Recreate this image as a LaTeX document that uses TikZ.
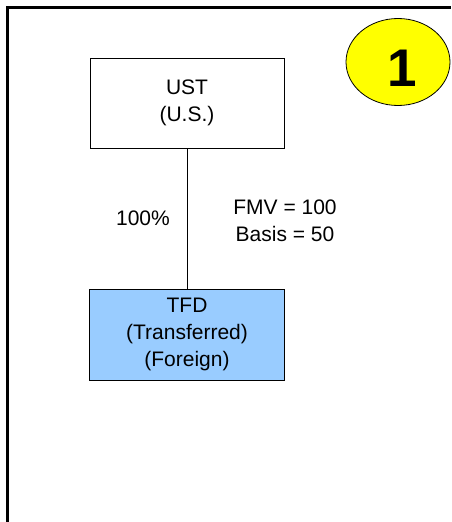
\documentclass[tikz,border=0pt]{standalone}
\usepackage{fontspec}
\setmainfont{Liberation Sans}
\usetikzlibrary{shapes,positioning}
\definecolor{tfd-blue}{HTML}{99CCFF}
\definecolor{step-yellow}{HTML}{FFFF00}
\tikzset{every picture/.style={/utils/exec={\fontsize{21}{27}\selectfont}}}

\begin{document}
\begin{tikzpicture}[x=1pt, y=-1pt]

    \fill[white] (0,0) rectangle (451,522);
    \useasboundingbox (0,0) rectangle (451,522);
    \draw[line width=3pt] (7.5,522) -- (7.5,7.5) -- (451,7.5);

    \node[draw=black, thick, minimum width=194pt, minimum height=90pt, align=center] (ust) at (187, 103) {UST\\(U.S.)};
    \node[fill=tfd-blue, draw=black, thick, minimum width=195pt, minimum height=91pt, align=center] (tfd) at (187, 334.5) {TFD\\(Transferred)\\(Foreign)};

    \draw[thick] (ust.south) -- (tfd.north);

    \node (pct) at (143, 218) {100\%};
    \node[align=center] (val) at (285, 221) {FMV = 100\\Basis = 50};

    \node[ellipse, fill=step-yellow, draw=black, thick, minimum width=104pt, minimum height=87pt] (step1) at (398, 62) {};
    \node (one) at (402, 68) {\fontsize{53}{53}\selectfont\bfseries 1};
\end{tikzpicture}
\end{document}
